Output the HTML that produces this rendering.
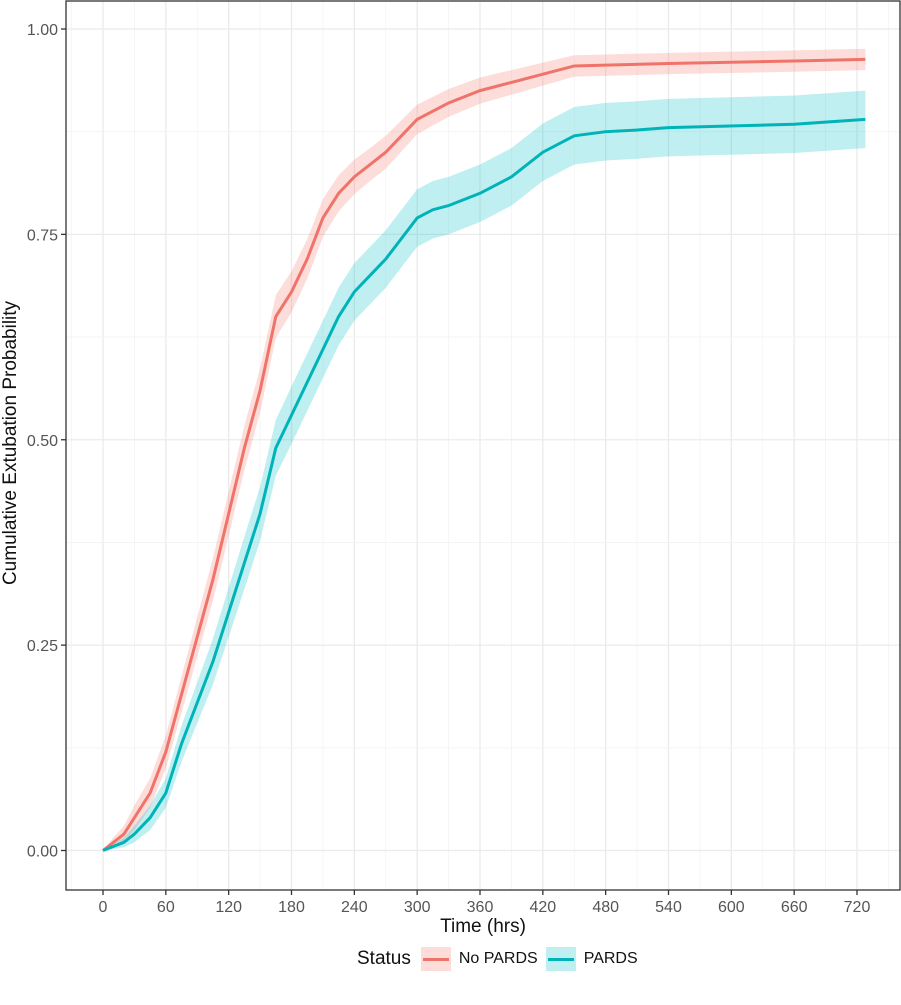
<!DOCTYPE html>
<html><head><meta charset="utf-8"><style>
body{margin:0;background:#fff;font-family:"Liberation Sans",sans-serif}
</style></head><body>
<svg id="c" width="901" height="1000" xmlns="http://www.w3.org/2000/svg"></svg>
<script>
const timesRed=[0,10,20,30,45,60,75,90,105,120,135,150,165,180,195,210,225,240,255,270,285,300,330,360,390,420,450,480,540,660,728];
const probRed=[0,0.01,0.02,0.04,0.07,0.12,0.19,0.26,0.33,0.41,0.49,0.56,0.65,0.68,0.72,0.77,0.80,0.82,0.835,0.85,0.87,0.89,0.91,0.925,0.935,0.945,0.955,0.956,0.958,0.961,0.963];
const ciRed=[0,0.006,0.01,0.015,0.018,0.02,0.022,0.024,0.026,0.027,0.027,0.027,0.026,0.025,0.024,0.023,0.022,0.021,0.02,0.02,0.019,0.018,0.017,0.016,0.015,0.014,0.013,0.013,0.013,0.013,0.013];
const timesTeal=[0,20,30,45,60,75,90,105,120,135,150,165,180,195,210,225,240,255,270,285,300,315,330,360,390,420,450,480,510,540,660,728];
const probTeal=[0,0.01,0.02,0.04,0.07,0.13,0.18,0.23,0.29,0.35,0.41,0.49,0.53,0.57,0.61,0.65,0.68,0.70,0.72,0.745,0.77,0.78,0.785,0.80,0.82,0.85,0.87,0.875,0.877,0.88,0.884,0.89];
const ciTeal=[0,0.006,0.01,0.015,0.018,0.022,0.025,0.028,0.03,0.032,0.033,0.034,0.035,0.035,0.035,0.035,0.035,0.035,0.035,0.035,0.035,0.035,0.035,0.035,0.035,0.035,0.035,0.035,0.035,0.035,0.035,0.035];
const xTicks=[0,60,120,180,240,300,360,420,480,540,600,660,720];
const yTicks=[0,0.25,0.5,0.75,1.0];
const yTickLabels=["0.00","0.25","0.50","0.75","1.00"];
const NS="http://www.w3.org/2000/svg";
const svg=document.getElementById('c');
const X=t=>103+(t/720)*754;
const Y=p=>850.5-p*821.5;
function mk(tag,attrs,parent){const e=document.createElementNS(NS,tag);for(const k in attrs)e.setAttribute(k,attrs[k]);(parent||svg).appendChild(e);return e;}
const L=66,R=900,T=1,B=890;
for(let i=0;i<xTicks.length;i++){
  const l=mk('line',{x1:X(xTicks[i]),x2:X(xTicks[i]),y1:T,y2:B,stroke:'#ebebeb','stroke-width':1.3});
  
  const m=xTicks[i]-30, n=mk('line',{x1:X(m),x2:X(m),y1:T,y2:B,stroke:'#f3f3f3','stroke-width':0.8});
  
}
const mm=X(750);const nl=mk('line',{x1:mm,x2:mm,y1:T,y2:B,stroke:'#f3f3f3','stroke-width':0.8});

for(let i=0;i<yTicks.length;i++){
  const l=mk('line',{x1:L,x2:R,y1:Y(yTicks[i]),y2:Y(yTicks[i]),stroke:'#ebebeb','stroke-width':1.3});
  
  if(i<yTicks.length-1){const v=yTicks[i]+0.125;const n=mk('line',{x1:L,x2:R,y1:Y(v),y2:Y(v),stroke:'#f3f3f3','stroke-width':0.8});
  }
}
function series(ts,ps,cs,col,fill,name){
  let up='',lo='';
  for(let i=0;i<ts.length;i++){up+=(i?'L':'M')+X(ts[i])+','+Y(Math.min(1,ps[i]+cs[i]));}
  for(let i=ts.length-1;i>=0;i--){lo+='L'+X(ts[i])+','+Y(Math.max(0,ps[i]-cs[i]));}
  const b=mk('path',{d:up+lo+'Z',fill:fill,'fill-opacity':0.25});
  
  let d='';for(let i=0;i<ts.length;i++){d+=(i?'L':'M')+X(ts[i])+','+Y(ps[i]);}
  const p=mk('path',{d:d,fill:'none',stroke:col,'stroke-width':3});
  
}
series(timesRed,probRed,ciRed,'#f0736a','#f8766d','no-pards');
series(timesTeal,probTeal,ciTeal,'#00b3b8','#00bfc4','pards');
const fr=mk('rect',{x:L,y:T,width:R-L,height:B-T,fill:'none',stroke:'#333','stroke-width':1.3});

for(let i=0;i<xTicks.length;i++){
  const t=mk('line',{x1:X(xTicks[i]),x2:X(xTicks[i]),y1:B,y2:B+5,stroke:'#333','stroke-width':1.3});
  
  const tx=mk('text',{x:X(xTicks[i]),y:B+22,'text-anchor':'middle','font-size':16,fill:'#555'});tx.textContent=xTicks[i];
  
}
for(let i=0;i<yTicks.length;i++){
  const t=mk('line',{x1:L-5,x2:L,y1:Y(yTicks[i]),y2:Y(yTicks[i]),stroke:'#333','stroke-width':1.3});
  
  const tx=mk('text',{x:L-8,y:Y(yTicks[i])+6,'text-anchor':'end','font-size':16,fill:'#555'});tx.textContent=yTickLabels[i];
  
}
</script>
<div style="position:absolute;left:383px;top:916px;width:200px;text-align:center;font-size:19px;color:#111">Time (hrs)</div>
<div style="position:absolute;left:-189px;top:432px;width:400px;text-align:center;font-size:19px;color:#111;transform:rotate(-90deg)">Cumulative Extubation Probability</div>
<div style="position:absolute;left:357px;top:946px;height:26px;display:flex;align-items:center;font-size:16px;color:#111">
  <span style="font-size:19px;margin-right:10px">Status</span>
  <span style="width:30px;height:24px;background:rgba(248,118,109,0.25);position:relative;display:inline-block"><span style="position:absolute;left:2px;right:2px;top:11px;height:3px;background:#f0736a"></span></span>
  <span style="margin:0 8px 0 8px">No PARDS</span>
  <span style="width:30px;height:24px;background:rgba(0,191,196,0.25);position:relative;display:inline-block"><span style="position:absolute;left:2px;right:2px;top:11px;height:3px;background:#00b3b8"></span></span>
  <span style="margin-left:8px">PARDS</span>
</div>
</body></html>
